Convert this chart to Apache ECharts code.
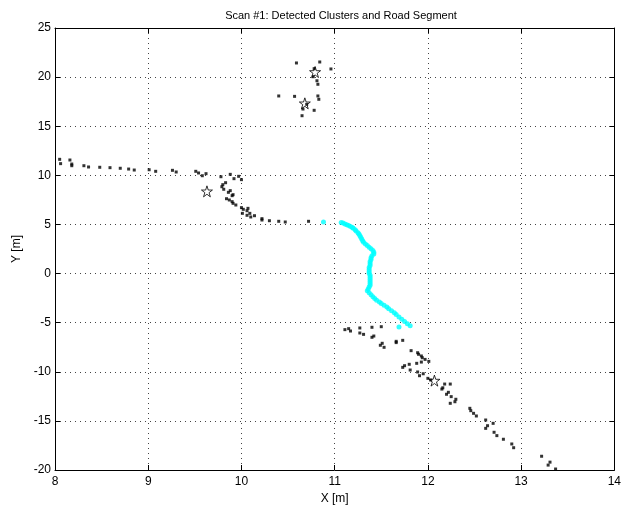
<!DOCTYPE html>
<html>
<head>
<meta charset="utf-8">
<script src="https://cdn.jsdelivr.net/npm/echarts@6/dist/echarts.min.js"></script>
<style>html,body{margin:0;padding:0;background:#fff;}#c{width:624px;height:510px;}</style>
</head>
<body>
<div id="c"></div>
<script>
var xTicks = [8, 9, 10, 11, 12, 13, 14];
var yTicks = [-20, -15, -10, -5, 0, 5, 10, 15, 20, 25];

var clusterPoints = [
  [10.59,21.44],[10.84,21.54],[10.96,20.83],[10.78,20.86],[10.77,20.04],[10.81,19.63],[10.82,19.27],
  [10.40,18.08],[10.57,18.04],[10.82,18.08],[10.83,17.74],[10.70,17.23],[10.66,16.75],[10.78,16.62],[10.65,16.07],
  [8.05,11.63],[8.06,11.19],[8.16,11.56],[8.18,11.15],[8.18,10.98],[8.31,10.98],[8.36,10.85],[8.48,10.82],
  [8.59,10.78],[8.70,10.72],[8.79,10.64],[8.85,10.54],[9.01,10.57],[9.08,10.41],[9.26,10.51],[9.30,10.34],
  [9.51,10.41],[9.54,10.24],[9.58,9.96],[9.62,10.17],[9.78,9.86],[9.88,10.10],[9.92,9.66],[9.97,9.90],[10.00,9.56],
  [9.83,9.25],[9.80,9.05],[9.79,8.84],[9.81,8.58],[9.86,8.27],[9.88,8.44],[9.90,7.93],[9.91,8.03],[9.84,7.62],
  [9.87,7.49],[9.90,7.32],[9.91,7.15],[9.94,6.98],[10.00,6.71],[10.02,6.54],[10.01,6.13],[10.06,6.40],[10.07,6.64],
  [10.09,6.13],[10.06,5.93],[10.10,5.76],[10.14,5.89],[10.22,5.59],[10.22,5.45],[10.30,5.38],[10.40,5.32],
  [10.47,5.25],[10.72,5.32],
  [11.11,-5.71],[11.15,-5.61],[11.17,-5.85],[11.27,-5.54],[11.27,-6.05],[11.31,-6.19],[11.40,-5.47],[11.50,-5.41],
  [11.40,-6.49],[11.42,-6.36],[11.49,-7.30],[11.51,-7.10],[11.53,-7.51],[11.66,-7.03],[11.66,-6.90],[11.73,-6.80],
  [11.82,-7.85],[11.89,-8.06],[11.90,-8.22],[11.93,-8.39],[11.94,-8.57],[11.97,-8.74],[12.01,-8.94],[11.93,-9.01],
  [11.88,-9.14],[11.80,-9.24],[11.75,-9.38],[11.73,-9.55],[11.81,-9.82],[11.89,-10.02],[11.91,-10.40],[11.95,-10.20],
  [12.00,-10.67],[12.03,-10.84],[12.18,-11.25],[12.24,-11.25],[12.16,-11.63],[12.15,-11.76],
  [12.22,-12.09],[12.20,-12.29],[12.25,-12.53],[12.30,-12.80],[12.29,-13.05],[12.24,-13.21],
  [12.45,-13.72],[12.46,-13.96],[12.49,-14.23],[12.52,-14.50],[12.62,-14.91],[12.64,-15.49],[12.62,-15.76],
  [12.70,-15.25],[12.71,-16.16],[12.74,-16.50],[12.81,-16.87],[12.90,-17.35],[12.92,-17.73],
  [13.22,-18.60],[13.31,-19.20],[13.29,-19.50],[13.37,-19.90]
];

var roadPoints = [
  [10.88,5.25],[11.07,5.20],[11.09,5.15],[11.11,5.05],[11.13,4.98],[11.15,4.88],[11.17,4.80],[11.19,4.70],
  [11.20,4.60],[11.22,4.45],[11.23,4.32],[11.25,4.15],[11.26,4.02],[11.27,3.88],[11.28,3.70],[11.29,3.52],
  [11.30,3.35],[11.31,3.18],[11.33,3.00],[11.35,2.85],[11.37,2.68],[11.39,2.52],[11.41,2.35],[11.42,2.18],
  [11.42,2.00],[11.40,1.82],[11.39,1.62],[11.39,1.42],[11.38,1.22],[11.38,1.02],[11.38,0.82],[11.37,0.62],
  [11.37,0.42],[11.37,0.22],[11.37,0.02],[11.38,-0.18],[11.38,-0.38],[11.38,-0.58],[11.38,-0.78],[11.38,-0.98],
  [11.38,-1.18],[11.37,-1.38],[11.36,-1.58],[11.35,-1.75],[11.37,-1.95],[11.39,-2.15],[11.41,-2.35],[11.43,-2.55],
  [11.45,-2.72],[11.48,-2.90],[11.50,-3.05],[11.53,-3.22],[11.56,-3.40],[11.58,-3.58],[11.61,-3.78],[11.64,-3.98],
  [11.66,-4.18],[11.69,-4.42],[11.72,-4.65],[11.75,-4.88],[11.78,-5.10],[11.81,-5.32],[11.69,-5.45]
];

var centroids = [[10.79,20.52],[10.68,17.33],[9.63,8.37],[12.07,-10.90]];

var FONT = 'Liberation Sans';
var chart = echarts.init(document.getElementById('c'), null, {renderer: 'canvas'});
var starPath = 'path://M50,0 L61.2,34.5 L97.6,34.5 L68.2,55.9 L79.4,90.5 L50,69.1 L20.6,90.5 L31.8,55.9 L2.4,34.5 L38.8,34.5 Z';

function baseX(pos, show) {
  return {
    type: 'value', position: pos, min: xTicks[0], max: xTicks[xTicks.length-1], interval: 1,
    axisLine: {show: true, onZero: false, lineStyle: {color: '#000', width: 1}},
    axisTick: {show: true, inside: true, length: 5, lineStyle: {color: '#000'}},
    axisLabel: {show: show, color: '#000', fontFamily: FONT, fontSize: 12, margin: 6},
    splitLine: {show: show, lineStyle: {color: '#444', type: [1, 4], width: 1}}
  };
}
function baseY(pos, show) {
  return {
    type: 'value', position: pos, min: yTicks[0], max: yTicks[yTicks.length-1], interval: 5,
    axisLine: {show: true, onZero: false, lineStyle: {color: '#000', width: 1}},
    axisTick: {show: true, inside: true, length: 5, lineStyle: {color: '#000'}},
    axisLabel: {show: show, color: '#000', fontFamily: FONT, fontSize: 12, margin: 4},
    splitLine: {show: show, lineStyle: {color: '#444', type: [1, 4], width: 1}}
  };
}
var xa = baseX('bottom', true);
xa.name = 'X [m]'; xa.nameLocation = 'middle'; xa.nameGap = 22;
xa.nameTextStyle = {color: '#000', fontFamily: FONT, fontSize: 12};
var ya = baseY('left', true);
ya.name = 'Y [m]'; ya.nameLocation = 'middle'; ya.nameGap = 31;
ya.nameTextStyle = {color: '#000', fontFamily: FONT, fontSize: 12};

chart.setOption({
  animation: false,
  backgroundColor: '#fff',
  title: {text: 'Scan #1: Detected Clusters and Road Segment', left: 336, textAlign: 'center', top: 5,
    textStyle: {color: '#000', fontFamily: FONT, fontSize: 11, fontWeight: 'normal'}},
  grid: {left: 55, right: 7, top: 28, bottom: 40},
  xAxis: [xa, baseX('top', false)],
  yAxis: [ya, baseY('right', false)],
  series: [
    {type: 'scatter', data: clusterPoints, symbol: 'rect', symbolSize: 3,
      itemStyle: {color: '#000'}, xAxisIndex: 0, yAxisIndex: 0},
    {type: 'scatter', data: roadPoints, symbol: 'circle', symbolSize: 5,
      itemStyle: {color: '#00ffff'}, xAxisIndex: 0, yAxisIndex: 0},
    {type: 'scatter', data: centroids, symbol: starPath, symbolSize: 11,
      itemStyle: {color: 'rgba(0,0,0,0)', borderColor: '#000', borderWidth: 1}, xAxisIndex: 0, yAxisIndex: 0}
  ]
});
</script>
</body>
</html>
